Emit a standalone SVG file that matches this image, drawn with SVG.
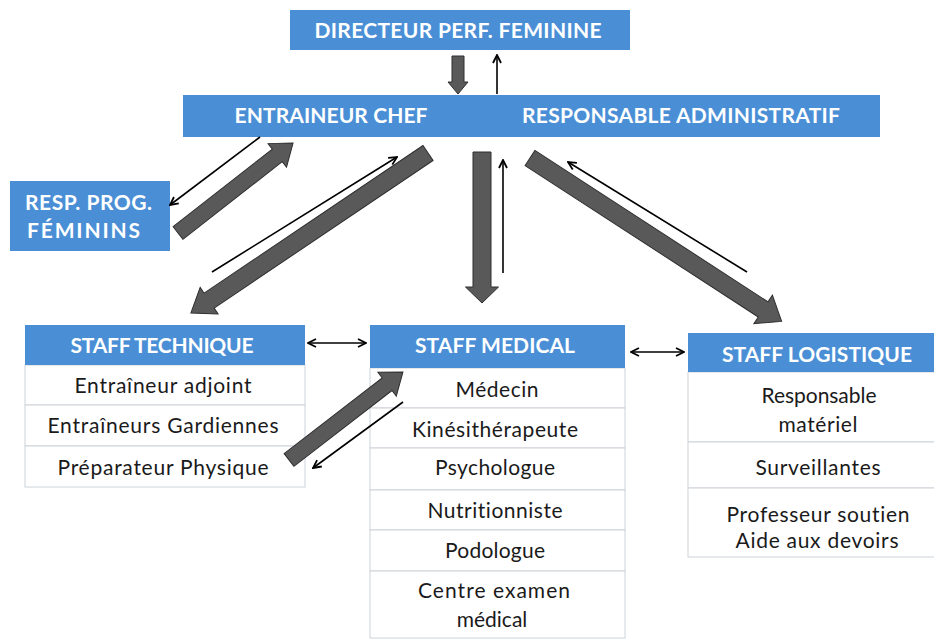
<svg xmlns="http://www.w3.org/2000/svg" width="934" height="640" viewBox="0 0 934 640">
<defs>
<style>
.bar{fill:#4a8fd6}
.hd{font-family:Lato,"Liberation Sans",sans-serif;font-weight:bold;font-size:21px;fill:#ffffff;text-anchor:middle;font-variant-ligatures:none}
.hl{font-family:Lato,"Liberation Sans",sans-serif;font-weight:bold;font-size:21px;fill:#ffffff;font-variant-ligatures:none}
.row{fill:#ffffff;stroke:#cdd3da;stroke-width:1}
.tx{font-family:Lato,"Liberation Sans",sans-serif;font-size:21px;fill:#1a1a1a;text-anchor:middle;font-variant-ligatures:none}
.thick{fill:#595959;stroke:#2e2e2e;stroke-width:1}
.thin{fill:none;stroke:#000000;stroke-width:1.6}
</style>
<marker id="ah" viewBox="0 0 10 10" refX="9" refY="5" markerUnits="userSpaceOnUse" markerWidth="10" markerHeight="10" orient="auto-start-reverse">
<path d="M1,1 L9,5 L1,9" fill="none" stroke="#000" stroke-width="1.8"/>
</marker>
</defs>
<rect width="934" height="640" fill="#ffffff"/>

<g id="directeur">
<rect class="bar" x="290" y="10" width="340" height="40"/>
<text class="hd" x="458" y="38" textLength="287">DIRECTEUR PERF. FEMININE</text>
</g>

<g id="entraineur-admin">
<rect class="bar" x="183" y="95" width="697" height="42"/>
<text class="hd" x="331" y="123" textLength="193">ENTRAINEUR CHEF</text>
<text class="hd" x="681" y="123" textLength="318">RESPONSABLE ADMINISTRATIF</text>
</g>

<g id="resp-prog">
<rect class="bar" x="10" y="181" width="160" height="70"/>
<text class="hl" x="25" y="210" textLength="127">RESP. PROG.</text>
<text class="hl" x="27" y="238" textLength="113">FÉMININS</text>
</g>

<g id="staff-technique">
<rect class="row" x="25" y="365" width="280" height="40"/>
<rect class="row" x="25" y="405" width="280" height="41"/>
<rect class="row" x="25" y="446" width="280" height="41"/>
<rect class="bar" x="25" y="325" width="280" height="40"/>
<text class="hd" x="162" y="353" textLength="183">STAFF TECHNIQUE</text>
<text class="tx" x="163" y="393" textLength="177">Entraîneur adjoint</text>
<text class="tx" x="163" y="433" textLength="231">Entraîneurs Gardiennes</text>
<text class="tx" x="163" y="475" textLength="211">Préparateur Physique</text>
</g>

<g id="staff-medical">
<rect class="row" x="370" y="368" width="255" height="40"/>
<rect class="row" x="370" y="408" width="255" height="40"/>
<rect class="row" x="370" y="448" width="255" height="42"/>
<rect class="row" x="370" y="490" width="255" height="40"/>
<rect class="row" x="370" y="530" width="255" height="41"/>
<rect class="row" x="370" y="571" width="255" height="67"/>
<rect class="bar" x="370" y="325" width="255" height="43"/>
<text class="hd" x="495" y="353" textLength="160">STAFF MEDICAL</text>
<text class="tx" x="497" y="397" textLength="83">Médecin</text>
<text class="tx" x="495" y="437" textLength="166">Kinésithérapeute</text>
<text class="tx" x="495" y="475" textLength="120">Psychologue</text>
<text class="tx" x="495" y="518" textLength="135">Nutritionniste</text>
<text class="tx" x="495" y="558" textLength="100">Podologue</text>
<text class="tx" x="494" y="598" textLength="152">Centre examen</text>
<text class="tx" x="492" y="627">médical</text>
</g>

<g id="staff-logistique">
<rect class="row" x="688" y="372" width="262" height="70"/>
<rect class="row" x="688" y="442" width="262" height="46"/>
<rect class="row" x="688" y="488" width="262" height="69"/>
<rect class="bar" x="688" y="333" width="262" height="39"/>
<text class="hd" x="817" y="362" textLength="190">STAFF LOGISTIQUE</text>
<text class="tx" x="819" y="403" textLength="115">Responsable</text>
<text class="tx" x="818" y="432" textLength="79">matériel</text>
<text class="tx" x="818" y="475" textLength="125">Surveillantes</text>
<text class="tx" x="818" y="522" textLength="183">Professeur soutien</text>
<text class="tx" x="817" y="548" textLength="163">Aide aux devoirs</text>
</g>

<g id="connectors">
<path class="thick" d="M0,-6 H26 V-10 L38,0 L26,10 V6 H0 Z" transform="translate(458,56) rotate(90)"/>
<path class="thick" d="M0,-8 H126 V-15 L146,0 L126,15 V8 H0 Z" transform="translate(178,233) rotate(-38)"/>
<path class="thick" d="M0,-9 H264 V-16 L286,0 L264,16 V9 H0 Z" transform="translate(428,153) rotate(146)"/>
<path class="thick" d="M0,-9 H135 V-16.5 L151,0 L135,16.5 V9 H0 Z" transform="translate(482,152) rotate(90)"/>
<path class="thick" d="M0,-9 H278 V-17 L300,0 L278,17 V9 H0 Z" transform="translate(530,158) rotate(33)"/>
<path class="thick" d="M0,-8 H124 V-15 L144,0 L124,15 V8 H0 Z" transform="translate(289,460) rotate(-37.7)"/>

<line class="thin" x1="497" y1="94" x2="497" y2="55" marker-end="url(#ah)"/>
<line class="thin" x1="260" y1="137" x2="170" y2="205" marker-end="url(#ah)"/>
<line class="thin" x1="212" y1="272" x2="397" y2="157" marker-end="url(#ah)"/>
<line class="thin" x1="503" y1="273" x2="503" y2="160" marker-end="url(#ah)"/>
<line class="thin" x1="747" y1="272" x2="568" y2="162" marker-end="url(#ah)"/>
<line class="thin" x1="403" y1="402" x2="313" y2="468" marker-end="url(#ah)"/>
<line class="thin" x1="308" y1="343" x2="366" y2="343" marker-start="url(#ah)" marker-end="url(#ah)"/>
<line class="thin" x1="631" y1="352" x2="684" y2="352" marker-start="url(#ah)" marker-end="url(#ah)"/>
</g>
</svg>
